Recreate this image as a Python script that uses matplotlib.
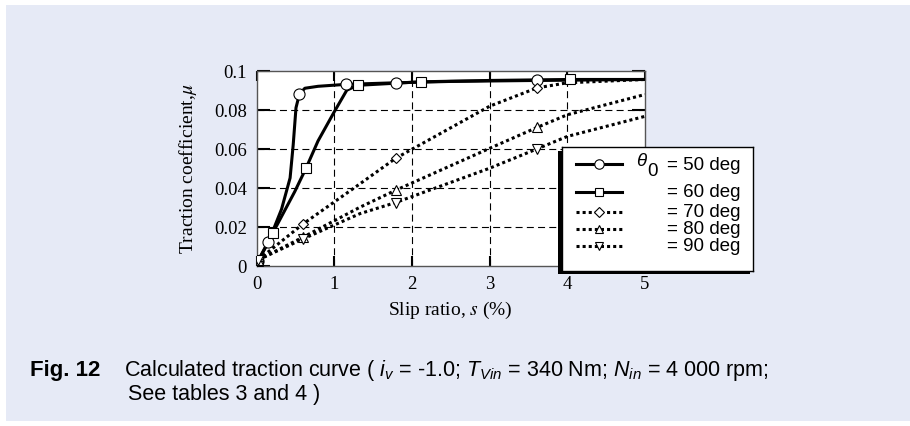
import matplotlib
matplotlib.use('Agg')
import matplotlib.pyplot as plt
import matplotlib.font_manager as fm
from matplotlib.patches import Rectangle
from matplotlib.lines import Line2D

# Slip ratio s (%) and traction coefficient mu
s50 = [0.02, 0.15, 0.32, 0.43, 0.47, 0.506, 0.55, 0.62, 0.79, 1.15, 1.79, 2.5, 3.61, 5.0]
mu50 = [0.0026, 0.012, 0.029, 0.045, 0.062, 0.081, 0.088, 0.091, 0.092, 0.093, 0.0938, 0.0945, 0.095, 0.0955]
mark50 = [0, 1, 6, 9, 10, 12]

s60 = [0.02, 0.21, 0.49, 0.635, 0.79, 1.0, 1.16, 1.30, 2.11, 3.0, 4.04, 5.0]
mu60 = [0.0026, 0.017, 0.038, 0.050, 0.064, 0.079, 0.090, 0.0925, 0.0943, 0.095, 0.0955, 0.0955]
mark60 = [0, 1, 3, 7, 8, 10]

s_dot = [0.02, 0.6, 1.33, 1.79, 3.0, 3.61, 4.0, 5.0]
mu70 = [0.003, 0.0215, 0.042, 0.0551, 0.0818, 0.0912, 0.0938, 0.0955]
mu80 = [0.003, 0.0147, 0.030, 0.0387, 0.0602, 0.0709, 0.0774, 0.0878]
mu90 = [0.003, 0.0138, 0.0267, 0.0324, 0.050, 0.0599, 0.0663, 0.0766]
mark_dot = [0, 1, 3, 5]

angles = ['50', '60', '70', '80', '90']
xticks = [0, 1, 2, 3, 4, 5]
yticks = [0, 0.02, 0.04, 0.06, 0.08, 0.1]
ytick_labels = ['0', '0.02', '0.04', '0.06', '0.08', '0.1']

names = {f.name for f in fm.fontManager.ttflist}
cap_font = 'Liberation Sans Narrow' if 'Liberation Sans Narrow' in names else 'Liberation Sans'

plt.rcParams['font.family'] = 'Liberation Serif'
plt.rcParams['mathtext.fontset'] = 'custom'
plt.rcParams['mathtext.rm'] = cap_font
plt.rcParams['mathtext.it'] = cap_font + ':italic'

W, H = 910, 427
fig = plt.figure(figsize=(W / 100, H / 100), dpi=100)
fig.patch.set_facecolor('white')


def fx(px):
    return px / W


def fy(py):
    return 1 - py / H


# lavender panel
fig.patches.append(Rectangle((fx(6), fy(421.5)), fx(904), 415.5 / H, transform=fig.transFigure,
                             facecolor='#e6eaf6', edgecolor='none', zorder=-10))

ax = fig.add_axes([fx(256.7), fy(266.7), fx(645 - 256.7), (266.7 - 71.7) / H])
ax.set_facecolor('white')

solid = dict(color='black', lw=2.2)
dotted = dict(color='black', lw=2.2, ls=(0, (1, 1)))

styles = [
    (s50, mu50, mark50, 'o', 8, solid),
    (s60, mu60, mark60, 's', 7.6, solid),
    (s_dot, mu70, mark_dot, 'D', 5.4, dotted),
    (s_dot, mu80, mark_dot, '^', 7.4, dotted),
    (s_dot, mu90, mark_dot, 'v', 7.4, dotted),
]
for xs, ys, idx, m, ms, st in styles:
    ax.plot(xs, ys, zorder=3, **st)
    ax.plot([xs[i] for i in idx], [ys[i] for i in idx], ls='none', marker=m, ms=ms,
            mfc='white', mec='black', mew=0.8, zorder=4)

ax.set_xlim(0, 5)
ax.set_ylim(0, 0.1)
ax.set_xticks(xticks)
ax.set_yticks(yticks)
ax.set_yticklabels(ytick_labels)
ax.tick_params(direction='in', top=True, right=True, width=1.5, color='black',
               labelsize=13.5, pad=7)
ax.tick_params(axis='y', length=9.4)
ax.tick_params(axis='x', length=7.2)
for x in xticks[1:-1]:
    ax.axvline(x, color='black', lw=0.8, ls=(0, (6.3, 3.8)), zorder=1)
for y in yticks[1:-1]:
    ax.axhline(y, color='black', lw=0.8, ls=(0, (6.3, 3.8)), zorder=1)
for sp in ax.spines.values():
    sp.set_color('#555555')
    sp.set_linewidth(1)

ax.text(0.5, -0.172, 'Slip ratio, $s$ (%)', transform=ax.transAxes, ha='center', va='top',
        fontsize=14, math_fontfamily='stix')
ax.text(-0.177, 0.5, r'Traction coefficient,$\mu$', transform=ax.transAxes, ha='center',
        va='center', rotation=90, fontsize=14, math_fontfamily='stix')

# legend box with shadow
lx0, lx1, ly0, ly1 = 561.7, 753, 148.3, 271.7
fig.patches.append(Rectangle((fx(lx0 - 3.5), fy(ly1 + 3.5)), fx(lx1 - lx0), (ly1 - ly0) / H,
                             transform=fig.transFigure, facecolor='black', edgecolor='none', zorder=4))
lax = fig.add_axes([fx(lx0), fy(ly1), fx(lx1 - lx0), (ly1 - ly0) / H], zorder=5)
lax.set_xlim(lx0, lx1)
lax.set_ylim(ly1, ly0)
lax.set_xticks([])
lax.set_yticks([])
for sp in lax.spines.values():
    sp.set_color('black')
    sp.set_linewidth(1)

row_y = [165.3, 192.7, 212.5, 229.5, 246.5]
for (xs, ys, idx, m, ms, st), ry, ang in zip(styles, row_y, angles):
    lax.add_line(Line2D([576, 621.7], [ry, ry], **st))
    lax.plot([598.8], [ry], marker=m, ms=ms * 0.85, mfc='white', mec='black', mew=0.8, ls='none')
    lax.text(667, ry, '= ' + ang + ' deg', ha='left', va='center', fontsize=13.5,
             family='Liberation Sans')
lax.text(636, 161, '\u03b8', ha='left', va='center', fontsize=13.5, style='italic',
         family='Liberation Sans')
lax.text(647.5, 171.5, '0', ha='left', va='center', fontsize=13.5, family='Liberation Sans')

# caption
fig.text(fx(29.5), fy(376), 'Fig. 12', ha='left', va='baseline', fontsize=16,
         fontweight='bold', family='Liberation Sans')
fig.text(fx(124), fy(376),
         r'Calculated traction curve ( $i_v$ = -1.0; $T_{Vin}$ = 340 Nm; $N_{in}$ = 4 000 rpm;',
         ha='left', va='baseline', fontsize=15.5, family=cap_font)
fig.text(fx(127.5), fy(400), 'See tables 3 and 4 )', ha='left', va='baseline', fontsize=15.5,
         family=cap_font)

fig.savefig('out.png', dpi=100)
